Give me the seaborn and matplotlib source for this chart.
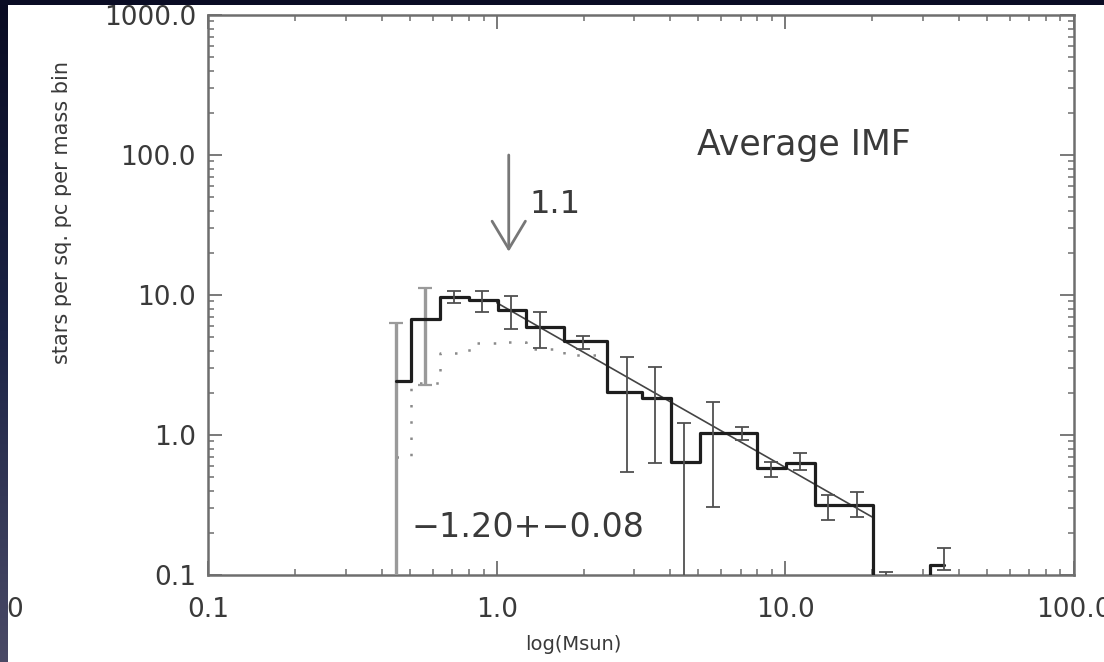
import numpy as np
import matplotlib
matplotlib.use("Agg")
import matplotlib.pyplot as plt
import seaborn as sns

# ---- data ----
log_mass = [-0.35, -0.25, -0.15, -0.05, 0.05, 0.15, 0.30, 0.45, 0.55, 0.65,
            0.75, 0.85, 0.95, 1.05, 1.15, 1.25, 1.35, 1.45, 1.55]
corrected = [2.43, 6.7, 9.7, 9.2, 7.8, 5.9, 4.7, 2.04, 1.85, 0.645,
             1.03, 1.03, 0.578, 0.628, 0.316, 0.316, 0.0, 0.0, 0.117]
observed = [0.70, 2.35, 3.87, 4.57, 4.64, 4.1, 3.7, 2.04, 1.85, 0.645,
            1.03, 1.03, 0.578, 0.628, 0.316, 0.316, 0.0, 0.0, 0.117]
err_upper = [6.3, 11.2, 10.6, 10.7, 9.9, 7.6, 5.1, 3.6, 3.08, 1.21,
             1.73, 1.15, 0.645, 0.74, 0.373, 0.394, 0.105, 0.0, 0.155]
err_lower = [0.0, 2.28, 8.8, 7.6, 5.7, 4.16, 4.1, 0.547, 0.628, 0.0,
             0.308, 0.92, 0.504, 0.562, 0.247, 0.261, 0.0, 0.0, 0.109]
fit_mass = [1.0, 20.0]
fit_values = [8.8, 0.26]
peak_mass = 1.1
x_ticks = [0.1, 1.0, 10.0, 100.0]
x_ticklabels = ["0.1", "1.0", "10.0", "100.0"]
y_ticks = [0.1, 1.0, 10.0, 100.0, 1000.0]
y_ticklabels = ["0.1", "1.0", "10.0", "100.0", "1000.0"]

mass = np.power(10.0, np.array(log_mass))
corr = np.array(corrected)
up = np.array(err_upper)
lo = np.array(err_lower)

sns.set_theme(style="ticks")
plt.rcParams["font.family"] = ["DejaVu Sans"]
TXT = "#3a3a3a"
FRAME = "#6e6e6e"

fig = plt.figure(figsize=(11.04, 6.62), dpi=100)
fig.patch.set_facecolor("white")
W, H = 1104, 662
ax = fig.add_axes([208.4 / W, 1 - 575 / H, (1073.6 - 208.4) / W, (575 - 15) / H])
ax.set_facecolor("white")

# dotted (observed) histogram
sns.lineplot(x=mass, y=observed, ax=ax, drawstyle="steps-mid", estimator=None,
             sort=False, color="#8a8a8a", lw=1.8, linestyle=(0, (1, 5.5)), zorder=2)
# fit line
sns.lineplot(x=fit_mass, y=fit_values, ax=ax, estimator=None, sort=False,
             color="#444444", lw=1.2, zorder=3)
# solid (corrected) histogram
sns.lineplot(x=mass, y=corrected, ax=ax, drawstyle="steps-mid", estimator=None,
             sort=False, color="#1e1e1e", lw=2.3, zorder=4)

# error bars
yerr = np.vstack([corr - lo, up - corr])
ax.errorbar(mass[:2], corr[:2], yerr=yerr[:, :2], fmt="none", ecolor="#9a9a9a",
            elinewidth=2.4, capsize=5, capthick=1.6, zorder=3)
ax.errorbar(mass[2:], corr[2:], yerr=yerr[:, 2:], fmt="none", ecolor="#505050",
            elinewidth=1.3, capsize=5, capthick=1.3, zorder=5)

ax.set_xscale("log", nonpositive="clip")
ax.set_yscale("log", nonpositive="clip")
ax.set_xlim(0.1, 100)
ax.set_ylim(0.1, 1000)

ax.set_xticks(x_ticks)
ax.set_xticklabels(x_ticklabels)
ax.set_yticks(y_ticks)
ax.set_yticklabels(y_ticklabels)
ax.xaxis.set_minor_locator(matplotlib.ticker.LogLocator(base=10, subs=np.arange(2, 10)))
ax.yaxis.set_minor_locator(matplotlib.ticker.LogLocator(base=10, subs=np.arange(2, 10)))
ax.xaxis.set_minor_formatter(matplotlib.ticker.NullFormatter())
ax.yaxis.set_minor_formatter(matplotlib.ticker.NullFormatter())
ax.tick_params(which="both", direction="in", top=True, right=True,
               color=FRAME, labelcolor=TXT)
ax.tick_params(which="major", length=10, width=1.3, labelsize=19)
ax.tick_params(which="minor", length=4.5, width=1.1)
ax.tick_params(axis="x", which="major", pad=16)
ax.tick_params(axis="y", which="major", pad=9)
for s in ax.spines.values():
    s.set_color(FRAME)
    s.set_linewidth(1.8)

fig.text(62 / W, 1 - 213 / H, "stars per sq. pc per mass bin", fontsize=15,
         color=TXT, rotation=90, ha="center", va="center")
fig.text(573 / W, 1 - 645 / H, "log(Msun)", fontsize=14, color=TXT,
         ha="center", va="center")

# annotations
ax.annotate("", xy=(peak_mass, 20.4), xytext=(peak_mass, 100),
            arrowprops=dict(arrowstyle="->,head_length=1.0,head_width=0.6",
                            color="#777777", lw=2, mutation_scale=20,
                            shrinkA=0, shrinkB=0))
ax.text(1.30, 38.4, "1.1", fontsize=23, color=TXT, ha="left", va="baseline")
ax.text(4.94, 100, "Average IMF", fontsize=25, color=TXT, ha="left", va="baseline")
ax.text(0.507, 0.188, "\u22121.20+\u22120.08", fontsize=24, color=TXT,
        ha="left", va="baseline")

# stray label fragment at far left, partly hidden by the slide border
fig.text(23 / W, 1 - 610 / H, "0", fontsize=19, color=TXT, ha="right", va="center")

# slide border (dark navy gradient)
band_l = fig.add_axes([0, 0, 8 / W, 1], zorder=10)
grad = np.linspace(0, 1, 256).reshape(-1, 1)
cmap = matplotlib.colors.LinearSegmentedColormap.from_list(
    "slide", ["#090b22", "#1c2446", "#4a4a66"])
band_l.imshow(grad, aspect="auto", cmap=cmap, extent=[0, 1, 1, 0])
band_l.set_axis_off()
band_t = fig.add_axes([0, 1 - 5 / H, 1, 5 / H], zorder=11)
band_t.set_facecolor("#0a0c24")
band_t.set_xticks([]); band_t.set_yticks([])
for s in band_t.spines.values():
    s.set_visible(False)

fig.savefig("out.png", dpi=100, facecolor="white")
